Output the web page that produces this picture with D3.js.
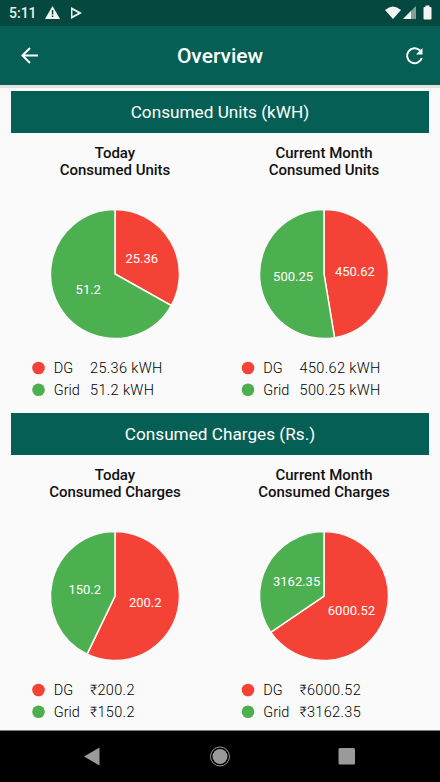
<!DOCTYPE html>
<html>
<head>
<meta charset="utf-8">
<script src="https://cdn.jsdelivr.net/npm/d3@7"></script>
<style>
html, body { margin: 0; padding: 0; background: #fafafa; }
svg { display: block; font-family: Roboto, sans-serif; }
</style>
</head>
<body>
<svg id="chart" width="440" height="782"></svg>
<script>
var seriesNames = ["DG", "Grid"];
var seriesColors = ["#f44336", "#4caf50"];

var sectionTitles = ["Consumed Units (kWH)", "Consumed Charges (Rs.)"];
var chartTitles = [
    ["Today", "Consumed Units"], ["Current Month", "Consumed Units"],
    ["Today", "Consumed Charges"], ["Current Month", "Consumed Charges"]
];
var dgValues = [25.36, 450.62, 200.2, 6000.52];
var gridValues = [51.2, 500.25, 150.2, 3162.35];
var dgLabels = ["25.36", "450.62", "200.2", "6000.52"];
var gridLabels = ["51.2", "500.25", "150.2", "3162.35"];
var dgLegend = ["25.36 kWH", "450.62 kWH", "₹200.2", "₹6000.52"];
var gridLegend = ["51.2 kWH", "500.25 kWH", "₹150.2", "₹3162.35"];

var svg = d3.select("#chart");
var green = "#065f55";

// status bar + app bar
svg.append("rect").attr("width", 440).attr("height", 26).attr("fill", "#05483f");
svg.append("rect").attr("y", 26).attr("width", 440).attr("height", 59).attr("fill", green);
svg.append("rect").attr("y", 85).attr("width", 440).attr("height", 3).attr("fill", "#e4e4e4");
svg.append("rect").attr("y", 730.5).attr("width", 440).attr("height", 52).attr("fill", "#000");

svg.append("text").attr("x", 9).attr("y", 18).attr("font-size", 14).attr("font-weight", 500)
    .attr("fill", "#e8eeed").text("5:11");
// warning icon
svg.append("path").attr("d", "M45,19 L52.500,6 L60,19 Z").attr("fill", "#f2f5f4");
svg.append("rect").attr("x", 51.8).attr("y", 10).attr("width", 1.5).attr("height", 4.500).attr("fill", "#05483f");
svg.append("rect").attr("x", 51.8).attr("y", 15.500).attr("width", 1.5).attr("height", 1.5).attr("fill", "#05483f");
// play store icon
svg.append("path").attr("d", "M71,7 L82,13 L71,19 Z M72.500,10 L72.500,16 L78,13 Z").attr("fill", "#e8eeed").attr("fill-rule", "evenodd");
// wifi, signal, battery
svg.append("path").attr("d", "M385,10 Q393,3 401,10 L393,19 Z").attr("fill", "#f2f5f4");
svg.append("path").attr("d", "M403,19 L416,6 L416,19 Z").attr("fill", "#7f9f9a");
svg.append("path").attr("d", "M403,19 L411,11 L411,19 Z").attr("fill", "#f2f5f4");
svg.append("rect").attr("x", 423.500).attr("y", 7).attr("width", 8).attr("height", 12.500).attr("rx", 1).attr("fill", "#f2f5f4");
svg.append("rect").attr("x", 425.500).attr("y", 5.500).attr("width", 4).attr("height", 2).attr("fill", "#f2f5f4");

// back arrow
svg.append("path").attr("d", "M38,55.500 L23,55.500 M30,48 L22.500,55.500 L30,63")
    .attr("fill", "none").attr("stroke", "#fff").attr("stroke-width", 2);
svg.append("text").attr("x", 220).attr("y", 63).attr("text-anchor", "middle")
    .attr("font-size", 21).attr("font-weight", 500).attr("fill", "#fff").text("Overview");
// refresh icon
svg.append("path").attr("d", "M420,50.500 A7.500,7.500 0 1 0 421.800,58")
    .attr("fill", "none").attr("stroke", "#fff").attr("stroke-width", 2);
svg.append("path").attr("d", "M422.500,48 L422.500,54.500 L416,54.500 Z").attr("fill", "#fff");

// section headers
sectionTitles.forEach(function(t, i) {
    var y = [91, 413][i];
    svg.append("rect").attr("x", 11).attr("y", y).attr("width", 418).attr("height", 42).attr("fill", green);
    svg.append("text").attr("x", 220).attr("y", y + 27).attr("text-anchor", "middle")
        .attr("font-size", 17.2).attr("fill", "#fff").text(t);
});

var pie = d3.pie().sort(null);
var arc = d3.arc().innerRadius(0).outerRadius(64.5);
var labelArc = d3.arc().innerRadius(31).outerRadius(31);
var centersX = [115, 324];
var legendX = [38.5, 248];
var blockTop = [133, 455];

function renderPie(idx) {
    var col = idx % 2;
    var top = blockTop[Math.floor(idx / 2)];
    var cx = centersX[col];
    var g = svg.append("g");

    chartTitles[idx].forEach(function(line, j) {
        g.append("text").attr("x", cx).attr("y", top + 24.5 + j * 17)
            .attr("text-anchor", "middle").attr("font-size", 15).attr("font-weight", 500)
            .attr("fill", "#111").text(line);
    });

    var cy = top + 141;
    var slices = pie([dgValues[idx], gridValues[idx]]);
    var labels = [dgLabels[idx], gridLabels[idx]];
    var pg = g.append("g").attr("transform", "translate(" + cx + "," + cy + ")");
    pg.selectAll("path").data(slices).enter().append("path")
        .attr("d", arc).attr("fill", function(d, i) { return seriesColors[i]; })
        .attr("stroke", "#fafafa").attr("stroke-width", 1.5);
    pg.selectAll("text").data(slices).enter().append("text")
        .attr("transform", function(d) { return "translate(" + labelArc.centroid(d) + ")"; })
        .attr("text-anchor", "middle").attr("dy", "0.35em")
        .attr("font-size", 13).attr("fill", "#fff")
        .text(function(d, i) { return labels[i]; });

    var lx = legendX[col];
    var values = [dgLegend[idx], gridLegend[idx]];
    seriesNames.forEach(function(name, j) {
        var ly = top + 235 + j * 21.7;
        g.append("circle").attr("cx", lx).attr("cy", ly).attr("r", 6.3).attr("fill", seriesColors[j]);
        g.append("text").attr("x", lx + 15.3).attr("y", ly + 5.2).attr("font-size", 14.500)
            .attr("font-weight", 300).attr("fill", "#000").text(name);
        g.append("text").attr("x", lx + 51.5).attr("y", ly + 5.2).attr("font-size", 14.500)
            .attr("font-weight", 300).attr("letter-spacing", 0.35).attr("fill", "#000").text(values[j]);
    });
}

for (var i = 0; i < 4; i++) renderPie(i);

// nav bar
svg.append("path").attr("d", "M84,756.500 L99.500,747.500 L99.500,765.500 Z").attr("fill", "#9a9a9a");
svg.append("circle").attr("cx", 220).attr("cy", 756.500).attr("r", 7.5).attr("fill", "#9a9a9a");
svg.append("circle").attr("cx", 220).attr("cy", 756.500).attr("r", 9.5).attr("fill", "none").attr("stroke", "#9a9a9a").attr("stroke-width", 1);
svg.append("rect").attr("x", 338.500).attr("y", 748).attr("width", 16.5).attr("height", 16.5).attr("rx", 1.5).attr("fill", "#9a9a9a");
</script>
</body>
</html>
